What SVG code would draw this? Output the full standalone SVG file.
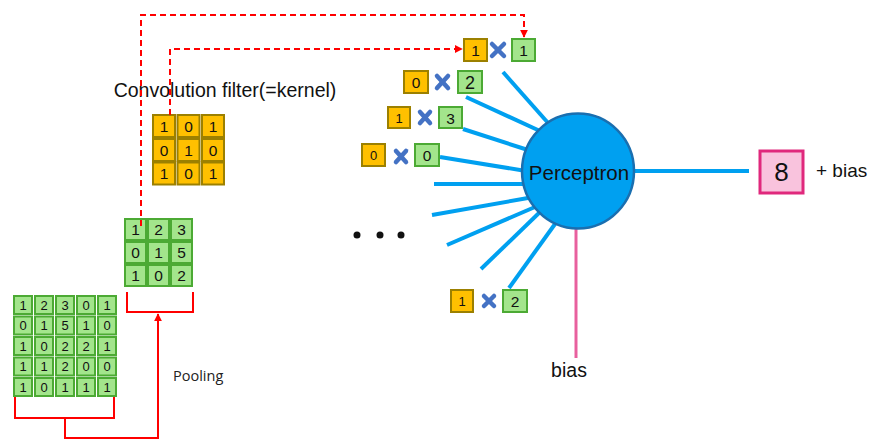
<svg xmlns="http://www.w3.org/2000/svg" width="873" height="448" viewBox="0 0 873 448">
<defs>
<style>
.g{fill:#a3e58c;stroke:#4caa34;stroke-width:2}
.o{fill:#ffc000;stroke:#9c8000;stroke-width:2}
.t{font-family:"Liberation Sans",Arial,sans-serif;fill:#111;text-anchor:middle}
.s{font-size:13px}
.m{font-size:15.5px}
.x{stroke:#4472c4;stroke-width:4.5;stroke-linecap:round}
.w{stroke:#00a0f0;stroke-width:4;fill:none}
.r{stroke:#ff0000;stroke-width:2;fill:none}
.d{stroke:#ff0000;stroke-width:2;fill:none;stroke-dasharray:6 4}
</style>
<marker id="ah" viewBox="0 0 10 10" refX="9" refY="5" markerWidth="4" markerHeight="4" orient="auto"><path d="M0,0 L10,5 L0,10 z" fill="#ff0000"/></marker>
</defs>
<rect width="873" height="448" fill="#fff"/>

<g id="input-grid">
<rect class="g" x="14" y="296" width="18" height="18"/><rect class="g" x="35" y="296" width="18" height="18"/><rect class="g" x="56" y="296" width="18" height="18"/><rect class="g" x="77" y="296" width="18" height="18"/><rect class="g" x="98" y="296" width="18" height="18"/>
<rect class="g" x="14" y="316.5" width="18" height="18"/><rect class="g" x="35" y="316.5" width="18" height="18"/><rect class="g" x="56" y="316.5" width="18" height="18"/><rect class="g" x="77" y="316.5" width="18" height="18"/><rect class="g" x="98" y="316.5" width="18" height="18"/>
<rect class="g" x="14" y="337" width="18" height="18"/><rect class="g" x="35" y="337" width="18" height="18"/><rect class="g" x="56" y="337" width="18" height="18"/><rect class="g" x="77" y="337" width="18" height="18"/><rect class="g" x="98" y="337" width="18" height="18"/>
<rect class="g" x="14" y="357.5" width="18" height="18"/><rect class="g" x="35" y="357.5" width="18" height="18"/><rect class="g" x="56" y="357.5" width="18" height="18"/><rect class="g" x="77" y="357.5" width="18" height="18"/><rect class="g" x="98" y="357.5" width="18" height="18"/>
<rect class="g" x="14" y="378" width="18" height="18"/><rect class="g" x="35" y="378" width="18" height="18"/><rect class="g" x="56" y="378" width="18" height="18"/><rect class="g" x="77" y="378" width="18" height="18"/><rect class="g" x="98" y="378" width="18" height="18"/>
<g class="t s">
<text x="23" y="309.5">1</text><text x="44" y="309.5">2</text><text x="65" y="309.5">3</text><text x="86" y="309.5">0</text><text x="107" y="309.5">1</text>
<text x="23" y="330">0</text><text x="44" y="330">1</text><text x="65" y="330">5</text><text x="86" y="330">1</text><text x="107" y="330">0</text>
<text x="23" y="350.5">1</text><text x="44" y="350.5">0</text><text x="65" y="350.5">2</text><text x="86" y="350.5">2</text><text x="107" y="350.5">1</text>
<text x="23" y="371">1</text><text x="44" y="371">1</text><text x="65" y="371">2</text><text x="86" y="371">0</text><text x="107" y="371">0</text>
<text x="23" y="391.5">1</text><text x="44" y="391.5">0</text><text x="65" y="391.5">1</text><text x="86" y="391.5">1</text><text x="107" y="391.5">1</text>
</g>
</g>

<g id="pooled-grid">
<rect class="g" x="125" y="219" width="21" height="21"/><rect class="g" x="148" y="219" width="21" height="21"/><rect class="g" x="171" y="219" width="21" height="21"/>
<rect class="g" x="125" y="242" width="21" height="21"/><rect class="g" x="148" y="242" width="21" height="21"/><rect class="g" x="171" y="242" width="21" height="21"/>
<rect class="g" x="125" y="265" width="21" height="21"/><rect class="g" x="148" y="265" width="21" height="21"/><rect class="g" x="171" y="265" width="21" height="21"/>
<g class="t m">
<text x="135.5" y="235">1</text><text x="158.5" y="235">2</text><text x="181.5" y="235">3</text>
<text x="135.5" y="258">0</text><text x="158.5" y="258">1</text><text x="181.5" y="258">5</text>
<text x="135.5" y="281">1</text><text x="158.5" y="281">0</text><text x="181.5" y="281">2</text>
</g>
</g>

<g id="kernel">
<rect class="o" x="153" y="115" width="22" height="22"/><rect class="o" x="177.5" y="115" width="22" height="22"/><rect class="o" x="202" y="115" width="22" height="22"/>
<rect class="o" x="153" y="139" width="22" height="22"/><rect class="o" x="177.5" y="139" width="22" height="22"/><rect class="o" x="202" y="139" width="22" height="22"/>
<rect class="o" x="153" y="162.5" width="22" height="22"/><rect class="o" x="177.5" y="162.5" width="22" height="22"/><rect class="o" x="202" y="162.5" width="22" height="22"/>
<g class="t m">
<text x="164" y="131.5">1</text><text x="188.5" y="131.5">0</text><text x="213" y="131.5">1</text>
<text x="164" y="155.5">0</text><text x="188.5" y="155.5">1</text><text x="213" y="155.5">0</text>
<text x="164" y="179">1</text><text x="188.5" y="179">0</text><text x="213" y="179">1</text>
</g>
</g>

<g id="kernel-label"><text class="t" x="225" y="97" font-size="19.5">Convolution filter(=kernel)</text></g>
<g id="pooling-label"><text x="173" y="381" font-family="'Open Sans','Liberation Sans',sans-serif" font-size="14.5" fill="#222">Pooling</text></g>

<g id="weights">
<line class="w" x1="503" y1="72" x2="549" y2="124"/>
<line class="w" x1="466" y1="97" x2="540" y2="131"/>
<line class="w" x1="463" y1="129" x2="528" y2="150"/>
<line class="w" x1="440" y1="157" x2="526" y2="171"/>
<line class="w" x1="434" y1="184" x2="526" y2="184"/>
<line class="w" x1="432" y1="215" x2="528" y2="198"/>
<line class="w" x1="447" y1="245" x2="535" y2="207"/>
<line class="w" x1="481" y1="269" x2="540" y2="212"/>
<line class="w" x1="509" y1="288" x2="555" y2="224"/>
<line class="w" x1="630" y1="171" x2="749" y2="171"/>
<line x1="576" y1="226" x2="576" y2="358" stroke="#e8609e" stroke-width="3"/>
</g>

<g id="perceptron">
<ellipse cx="578" cy="171" rx="56" ry="57.5" fill="#00a0f0" stroke="#1a6fb0" stroke-width="2.5"/>
<text class="t" x="579" y="180" font-size="20.5">Perceptron</text>
</g>

<g id="pair1">
<rect class="o" x="464" y="39" width="23" height="22"/><text class="t m" x="475.5" y="56">1</text>
<line class="x" x1="492" y1="44" x2="504" y2="56"/><line class="x" x1="504" y1="44" x2="492" y2="56"/>
<rect class="g" x="512" y="39" width="23" height="22"/><text class="t m" x="523.5" y="56">1</text>
</g>
<g id="pair2">
<rect class="o" x="404" y="71" width="24" height="22"/><text class="t m" x="416" y="88">0</text>
<line class="x" x1="437" y1="76" x2="448" y2="88"/><line class="x" x1="448" y1="76" x2="437" y2="88"/>
<rect class="g" x="458" y="71" width="24" height="22"/><text class="t" x="470" y="89" font-size="18">2</text>
</g>
<g id="pair3">
<rect class="o" x="388" y="107" width="22" height="21"/><text class="t s" x="399" y="122.5">1</text>
<line class="x" x1="420" y1="112" x2="430" y2="123"/><line class="x" x1="430" y1="112" x2="420" y2="123"/>
<rect class="g" x="439" y="107" width="23" height="21"/><text class="t m" x="450.5" y="123.5">3</text>
</g>
<g id="pair4">
<rect class="o" x="362" y="144" width="23" height="22"/><text class="t s" x="373.5" y="159.5">0</text>
<line class="x" x1="396" y1="151" x2="406" y2="162"/><line class="x" x1="406" y1="151" x2="396" y2="162"/>
<rect class="g" x="415" y="144" width="24" height="22"/><text class="t m" x="427" y="161">0</text>
</g>
<g id="pair5">
<rect class="o" x="451" y="290" width="22" height="22"/><text class="t s" x="462" y="305.5">1</text>
<line class="x" x1="484" y1="296" x2="494" y2="306"/><line class="x" x1="494" y1="296" x2="484" y2="306"/>
<rect class="g" x="503" y="290" width="24" height="22"/><text class="t m" x="515" y="307">2</text>
</g>

<g id="ellipsis">
<circle cx="357" cy="235" r="3.5" fill="#111"/><circle cx="380" cy="235" r="3.5" fill="#111"/><circle cx="401" cy="235" r="3.5" fill="#111"/>
</g>

<g id="output">
<rect x="760" y="151" width="43" height="42" fill="#f9c3dd" stroke="#e0287c" stroke-width="3"/>
<text class="t" x="781.5" y="181" font-size="26">8</text>
<text x="816" y="177" font-family="'Liberation Sans',Arial,sans-serif" font-size="19" fill="#111">+ bias</text>
</g>

<g id="bias-label"><text class="t" x="569" y="377" font-size="19.5">bias</text></g>

<g id="connectors">
<polyline class="r" points="15,397 15,418 114,418 114,397"/>
<polyline class="r" points="65,418 65,438 158,438 158,314" marker-end="url(#ah)"/>
<polyline class="r" points="127,292 127,312 193,312 193,292"/>
<polyline class="d" points="141,226 141,15 524,15 524,37" marker-end="url(#ah)"/>
<polyline class="d" points="170,115 170,49 462,49" marker-end="url(#ah)"/>
</g>
</svg>
